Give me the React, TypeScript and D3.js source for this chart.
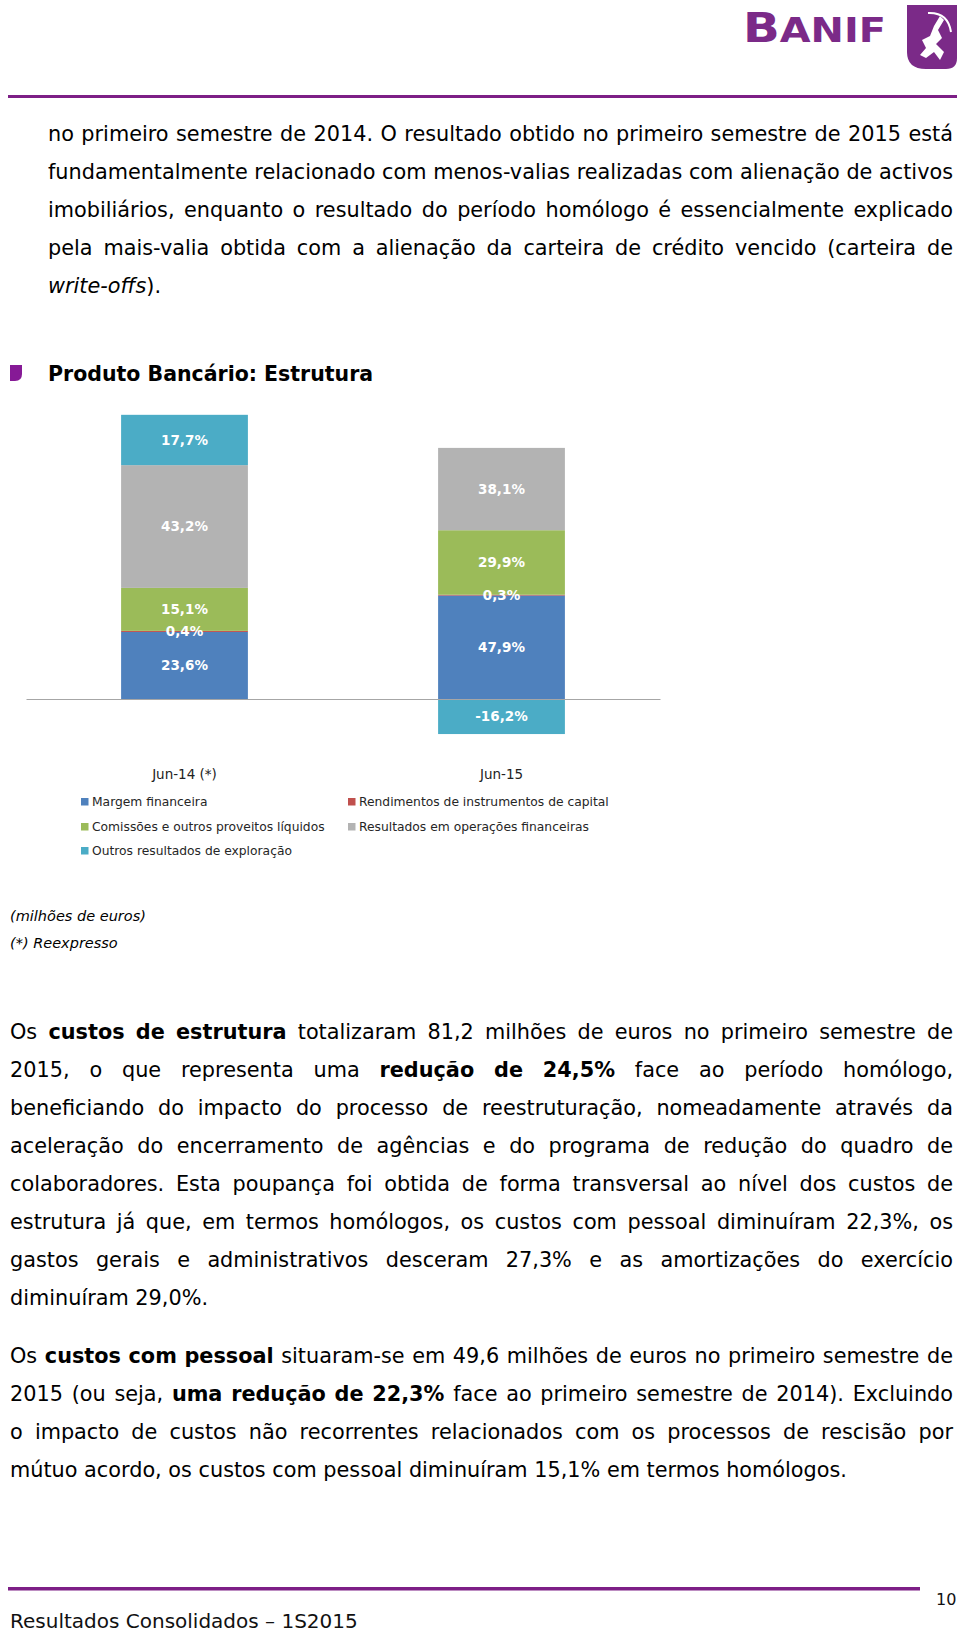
import React, { useEffect, useRef } from "react";
import * as d3 from "d3";

// categorias e séries do gráfico
const categories = ["Jun-14 (*)", "Jun-15"];
const seriesNames = [
  "Margem financeira",
  "Rendimentos de instrumentos de capital",
  "Comissões e outros proveitos líquidos",
  "Resultados em operações financeiras",
  "Outros resultados de exploração",
];
const seriesColors = ["#4f81bd", "#c0504d", "#9bbb59", "#b3b3b3", "#4bacc6"];

const margemFinanceira = [37.3, 57.6];
const rendimentosCapital = [0.6, 0.4];
const comissoes = [23.9, 35.9];
const resultadosOperacoes = [68.3, 45.8];
const outrosResultados = [28.0, -19.5];

// rótulos (% do produto bancário)
const margemLabels = ["23,6%", "47,9%"];
const rendimentosLabels = ["0,4%", "0,3%"];
const comissoesLabels = ["15,1%", "29,9%"];
const resultadosLabels = ["43,2%", "38,1%"];
const outrosLabels = ["17,7%", "-16,2%"];

// texto do relatório (linhas como no original)
const para1 = [
  "no primeiro semestre de 2014. O resultado obtido no primeiro semestre de 2015 está",
  "fundamentalmente relacionado com menos-valias realizadas com alienação de activos",
  "imobiliários, enquanto o resultado do período homólogo é essencialmente explicado",
  "pela mais-valia obtida com a alienação da carteira de crédito vencido (carteira de",
  "_write-offs_).",
];
const para2 = [
  "Os **custos de estrutura** totalizaram 81,2 milhões de euros no primeiro semestre de",
  "2015, o que representa uma **redução de 24,5%** face ao período homólogo,",
  "beneficiando do impacto do processo de reestruturação, nomeadamente através da",
  "aceleração do encerramento de agências e do programa de redução do quadro de",
  "colaboradores. Esta poupança foi obtida de forma transversal ao nível dos custos de",
  "estrutura já que, em termos homólogos, os custos com pessoal diminuíram 22,3%, os",
  "gastos gerais e administrativos desceram 27,3% e as amortizações do exercício",
  "diminuíram 29,0%.",
];
const para3 = [
  "Os **custos com pessoal** situaram-se em 49,6 milhões de euros no primeiro semestre de",
  "2015 (ou seja, **uma redução de 22,3%** face ao primeiro semestre de 2014). Excluindo",
  "o impacto de custos não recorrentes relacionados com os processos de rescisão por",
  "mútuo acordo, os custos com pessoal diminuíram 15,1% em termos homólogos.",
];

type Run = { t: string; b: boolean; i: boolean };

const parse = (s: string): Run[] =>
  s
    .split(/(\*\*[^*]+\*\*|_[^_]+_)/)
    .filter(Boolean)
    .map((p) =>
      p.startsWith("**")
        ? { t: p.slice(2, -2), b: true, i: false }
        : p.startsWith("_")
        ? { t: p.slice(1, -1), b: false, i: true }
        : { t: p, b: false, i: false }
    );

const toWords = (runs: Run[]): Run[][] => {
  const words: Run[][] = [];
  let cur: Run[] = [];
  runs.forEach((r) => {
    r.t.split(/( )/).forEach((piece) => {
      if (piece === " ") {
        if (cur.length) words.push(cur);
        cur = [];
      } else if (piece) cur.push({ ...r, t: piece });
    });
  });
  if (cur.length) words.push(cur);
  return words;
};

const PURPLE = "#7d1f86";
const FONT = "DejaVu Sans";

const App = () => {
  const svgRef = useRef(null);
  const width = 960;
  const height = 1635;

  useEffect(() => {
    document.body.style.margin = "0";
    const svg = d3.select(svgRef.current);
    svg.selectAll("*").remove();

    // ---------- cabeçalho ----------
    const logo = svg.append("text").attr("x", 743).attr("y", 42).attr("fill", "#7b2a88")
      .attr("font-family", FONT).attr("font-weight", "bold")
      .attr("textLength", 143).attr("lengthAdjust", "spacingAndGlyphs");
    logo.append("tspan").attr("font-size", 40).text("B");
    logo.append("tspan").attr("font-size", 33).text("ANIF");

    svg.append("path")
      .attr("d", "M907,5 H957 V58 Q957,69 946,69 H926 Q907,69 907,52 Z")
      .attr("fill", "#7b2a88");
    // figura (arqueiro) simplificada
    svg.append("path").attr("d", "M928,13 Q948,12 951,32").attr("fill", "none").attr("stroke", "#fff").attr("stroke-width", 2);
    svg.append("path")
      .attr("d", "M940,16 L944,20 L938,30 L942,38 L936,44 L944,52 L940,60 L934,52 L926,58 L920,55 L926,48 L922,40 L930,36 L934,26 Z")
      .attr("fill", "#fff");

    svg.append("rect").attr("x", 8).attr("y", 95).attr("width", 949).attr("height", 3).attr("fill", PURPLE);

    // ---------- texto justificado ----------
    const fs = 20.8;
    const drawPara = (lines: string[], x0: number, x1: number, y0: number, lh: number) => {
      lines.forEach((line, li) => {
        const y = y0 + li * lh;
        const words = toWords(parse(line));
        const nodes = words.map((w) => {
          const t = svg.append("text").attr("y", y).attr("font-family", FONT).attr("font-size", fs).attr("fill", "#000");
          w.forEach((r) =>
            t.append("tspan")
              .attr("font-weight", r.b ? "bold" : "normal")
              .attr("font-style", r.i ? "italic" : "normal")
              .text(r.t)
          );
          return t;
        });
        const widths = nodes.map((t) => (t.node() as SVGTextElement).getComputedTextLength());
        const total = d3.sum(widths);
        const last = li === lines.length - 1;
        const gap = last || nodes.length < 2 ? fs * 0.318 : (x1 - x0 - total) / (nodes.length - 1);
        let x = x0;
        nodes.forEach((t, k) => {
          t.attr("x", x);
          x += widths[k] + gap;
        });
      });
    };

    drawPara(para1, 48, 953, 141, 38);
    drawPara(para2, 10, 953, 1039, 38);
    drawPara(para3, 10, 953, 1363, 38);

    // ---------- título ----------
    svg.append("path").attr("d", "M10,365 H22 V374 Q22,381 15,381 H10 Z").attr("fill", "#861a96");
    svg.append("text").attr("x", 48).attr("y", 381).attr("font-family", FONT).attr("font-weight", "bold")
      .attr("font-size", 20.5).attr("fill", "#000").text("Produto Bancário: Estrutura");

    // ---------- gráfico ----------
    const keys = ["margem", "rend", "com", "res", "outros"];
    const valueSets = [margemFinanceira, rendimentosCapital, comissoes, resultadosOperacoes, outrosResultados];
    const labelSets = [margemLabels, rendimentosLabels, comissoesLabels, resultadosLabels, outrosLabels];
    const table = categories.map((c, i) => {
      const row: any = { cat: c };
      keys.forEach((k, j) => (row[k] = valueSets[j][i]));
      return row;
    });
    const stacked = d3.stack().keys(keys).offset(d3.stackOffsetDiverging)(table);

    const x = d3.scaleBand().domain(categories).range([26, 660]).paddingInner(0.6).paddingOuter(0.3);
    const y = d3.scaleLinear().domain([0, 158]).range([699, 415]);

    const g = svg.append("g");
    stacked.forEach((layer, j) => {
      g.selectAll(null)
        .data(layer)
        .enter()
        .append("rect")
        .attr("x", (d: any) => x(d.data.cat))
        .attr("y", (d) => y(d[1]))
        .attr("width", x.bandwidth())
        .attr("height", (d) => Math.max(0.8, y(d[0]) - y(d[1])))
        .attr("fill", seriesColors[j]);
    });

    const xAxisG = g.append("g").attr("transform", "translate(0,699)")
      .call(d3.axisBottom(x).tickSize(0).tickPadding(70));
    xAxisG.select(".domain").attr("stroke", "#a6a6a6");
    xAxisG.selectAll("text").attr("font-family", FONT).attr("font-size", 13.5).attr("fill", "#222");

    stacked.forEach((layer, j) => {
      g.selectAll(null)
        .data(layer)
        .enter()
        .append("text")
        .attr("x", (d: any) => x(d.data.cat) + x.bandwidth() / 2)
        .attr("y", (d) => (y(d[0]) + y(d[1])) / 2)
        .attr("dy", "0.36em")
        .attr("text-anchor", "middle")
        .attr("font-family", FONT)
        .attr("font-weight", "bold")
        .attr("font-size", 13.5)
        .attr("fill", "#fff")
        .text((d, i) => labelSets[j][i]);
    });

    // legenda
    const colX = [81, 348];
    const rowY = [802, 827, 851];
    const leg = g.selectAll(".leg").data(seriesNames).enter().append("g")
      .attr("transform", (d, i) => `translate(${colX[i % 2]},${rowY[Math.floor(i / 2)]})`);
    leg.append("rect").attr("x", 0).attr("y", -4).attr("width", 7.5).attr("height", 7.5)
      .attr("fill", (d, i) => seriesColors[i]);
    leg.append("text").attr("x", 11).attr("dy", "0.35em").attr("font-family", FONT)
      .attr("font-size", 12.3).attr("fill", "#262626").text((d) => d);

    // notas
    svg.append("text").attr("x", 10).attr("y", 921).attr("font-family", FONT).attr("font-style", "italic")
      .attr("font-size", 14.5).text("(milhões de euros)");
    svg.append("text").attr("x", 10).attr("y", 948).attr("font-family", FONT).attr("font-style", "italic")
      .attr("font-size", 14.5).text("(*) Reexpresso");

    // ---------- rodapé ----------
    svg.append("rect").attr("x", 8).attr("y", 1587).attr("width", 912).attr("height", 3.5).attr("fill", PURPLE);
    svg.append("text").attr("x", 936).attr("y", 1605).attr("font-family", FONT).attr("font-size", 16)
      .attr("fill", "#111").text("10");
    svg.append("text").attr("x", 10).attr("y", 1628).attr("font-family", FONT).attr("font-size", 20)
      .attr("fill", "#111").text("Resultados Consolidados – 1S2015");
  }, []);

  return (
    <svg
      ref={svgRef}
      width={width}
      height={height}
      style={{ position: "absolute", left: 0, top: 0, background: "#fff" }}
    ></svg>
  );
};

export default App;
